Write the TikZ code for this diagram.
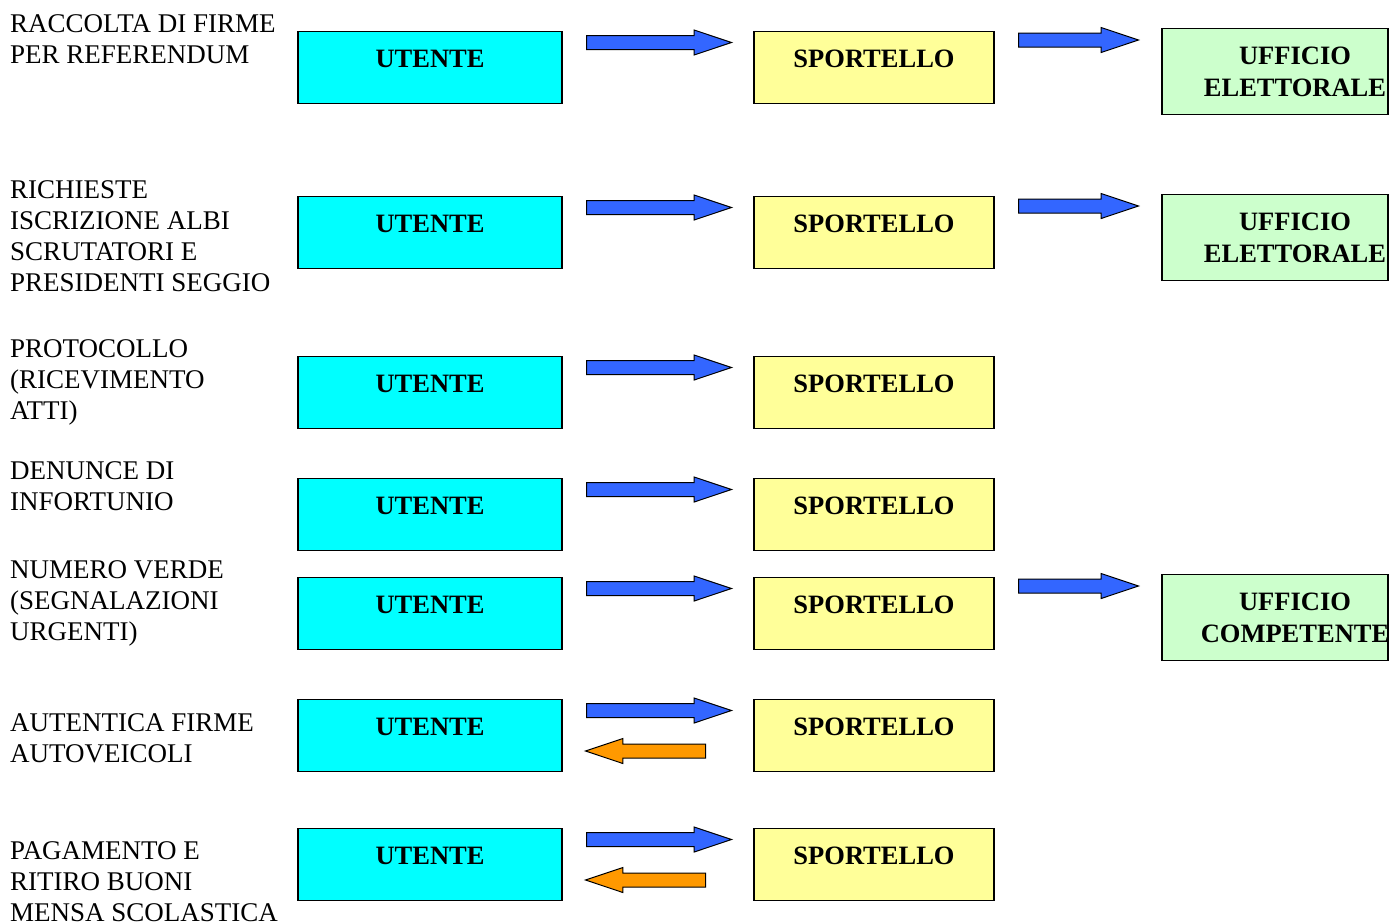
\documentclass[tikz,border=0pt]{standalone}
\usepackage{fontspec}
\setmainfont{Liberation Serif}
\usepackage{xcolor}
\usepackage{tikz}
\usetikzlibrary{shapes.arrows,positioning}
\definecolor{utcyan}{HTML}{00FFFF}
\definecolor{spyellow}{HTML}{FFFF99}
\definecolor{ufgreen}{HTML}{CCFFCC}
\definecolor{arblue}{HTML}{3366FF}
\definecolor{arorange}{HTML}{FF9900}

\begin{document}
\begin{tikzpicture}[x=1pt,y=-1pt,
    cell/.style={rectangle,draw,line width=1.2pt,minimum height=72pt,inner sep=0pt,anchor=north,
      font=\fontsize{26.5}{31}\selectfont\bfseries,text height=16pt,text depth=17pt},
    utbox/.style={cell,fill=utcyan,minimum width=264pt},
    spbox/.style={cell,fill=spyellow,minimum width=240pt},
    ufbox/.style={rectangle,draw,line width=1.2pt,fill=ufgreen,minimum width=226pt,minimum height=86pt,anchor=north},
    uftext/.style={align=center,inner sep=0pt,font=\fontsize{26.5}{32}\selectfont\bfseries},
    fwd/.style={single arrow,draw,line width=1pt,fill=arblue,inner sep=0pt,text height=6.5pt,text depth=6.5pt,
      minimum width=24pt,single arrow head extend=5.5pt,single arrow tip angle=37,anchor=tail},
    retarrow/.style={fwd,fill=arorange,shape border rotate=180,minimum height=120pt},
    lbl/.style={anchor=north west,align=left,inner sep=0pt,font=\fontsize{27}{31}\selectfont}]
  \useasboundingbox (0,0) rectangle (1392,922);
  % rows: utente -> sportello
  \foreach \r/\y in {1/31,2/196,3/356,4/478,5/577,6/699,7/828} {
    \node[utbox] (ut\r) at (430,\y) {UTENTE};
    \node[spbox] (sp\r) at (874,\y) {SPORTELLO};
    \node[fwd,minimum height=145pt] (go\r) at (586,\y+11.5) {};
  }
  % offices
  \foreach \r/\y/\t in {1/28/ELETTORALE,2/194/ELETTORALE,5/574/COMPETENTE} {
    \node[ufbox] (uf\r) at (1275,\y) {};
    \node[uftext] (uft\r) at ([xshift=20pt]uf\r.center) {UFFICIO\\\t};
    \node[fwd,minimum height=120pt] (to\r) at (1018,\y+12) {};
  }
  % replies
  \foreach \r/\y in {6/751,7/880} \node[retarrow] (bk\r) at (706,\y) {};
  % service names
  \node[lbl] (l1) at (10,14) {RACCOLTA DI FIRME\\PER REFERENDUM};
  \node[lbl] (l2) at (10,180.5) {RICHIESTE\\ISCRIZIONE ALBI\\SCRUTATORI E\\PRESIDENTI SEGGIO};
  \node[lbl] (l3) at (10,339) {PROTOCOLLO\\(RICEVIMENTO\\ATTI)};
  \node[lbl] (l4) at (10,461.5) {DENUNCE DI\\INFORTUNIO};
  \node[lbl] (l5) at (10,560) {NUMERO VERDE\\(SEGNALAZIONI\\URGENTI)};
  \node[lbl] (l6) at (10,713.5) {AUTENTICA FIRME\\AUTOVEICOLI};
  \node[lbl] (l7) at (10,841.5) {PAGAMENTO E\\RITIRO BUONI\\MENSA SCOLASTICA};
\end{tikzpicture}
\end{document}
